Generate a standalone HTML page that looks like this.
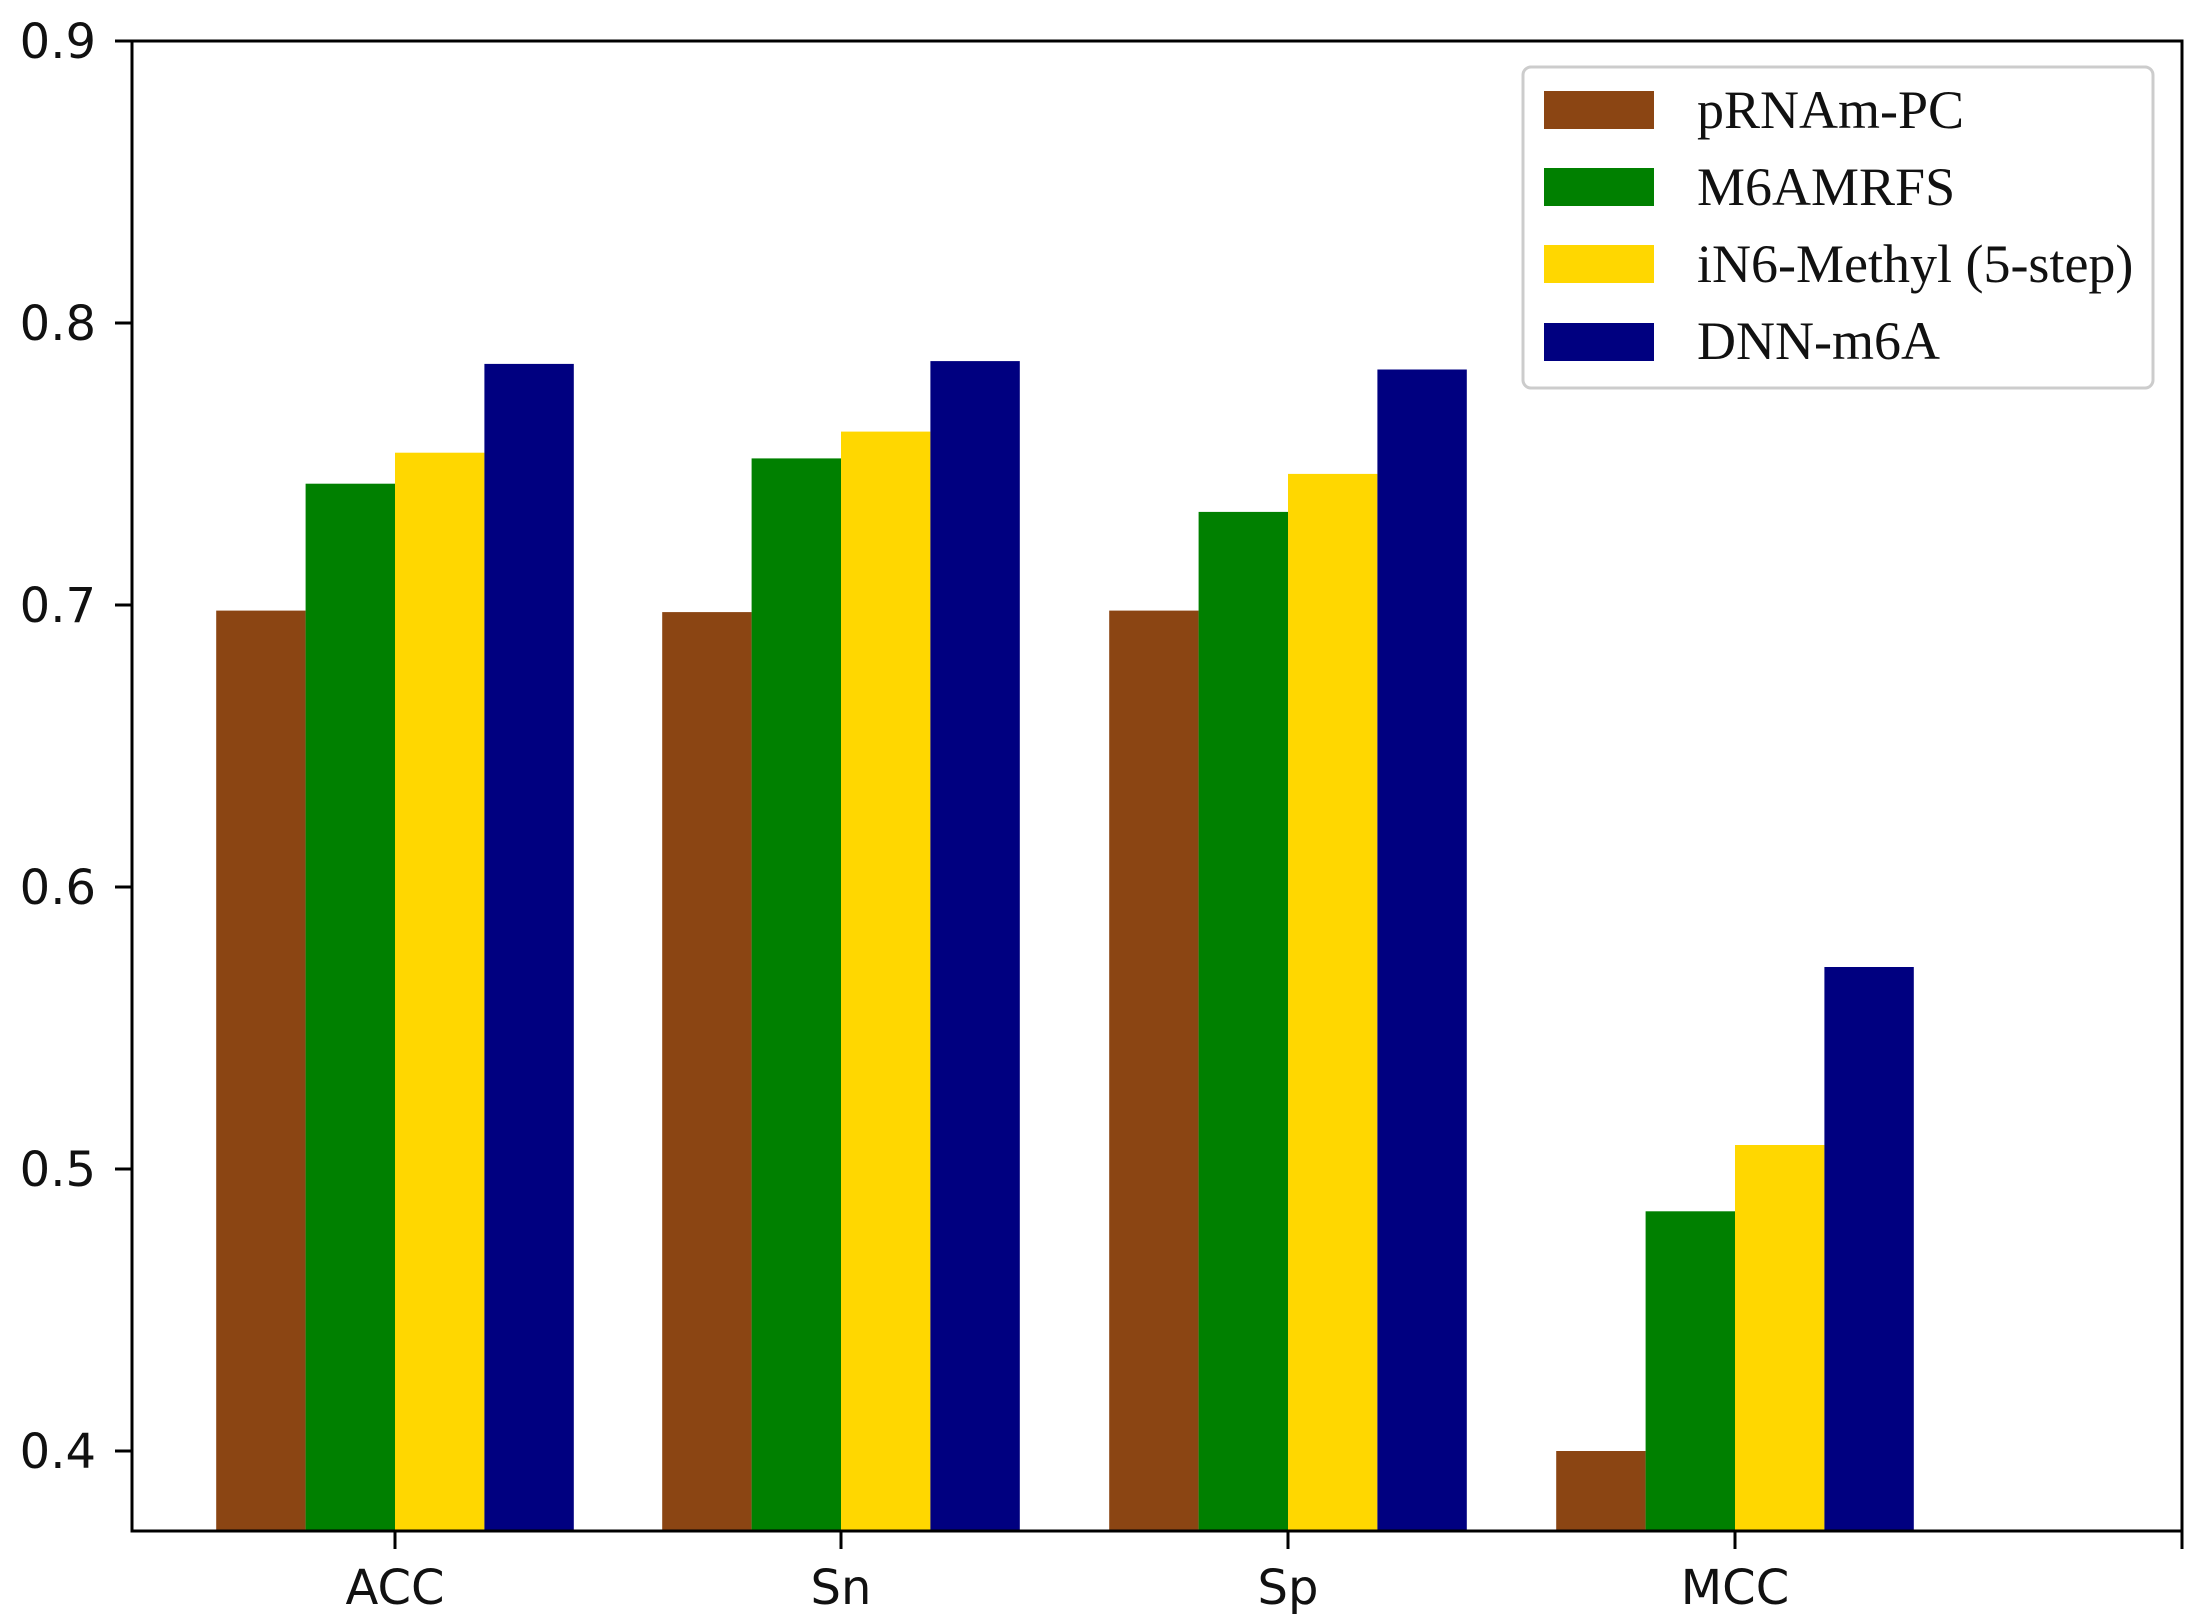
<!DOCTYPE html>
<html><head><meta charset="utf-8"><style>body{margin:0;background:#fff}svg{display:block}</style></head>
<body>
<svg width="2196" height="1621" viewBox="0 0 2196 1621" xmlns="http://www.w3.org/2000/svg">
<rect width="2196" height="1621" fill="#fff"/>
<g>
<rect x="216.2" y="610.6" width="89.4" height="920.4" fill="#8B4513"/>
<rect x="305.6" y="483.7" width="89.4" height="1047.3" fill="#008000"/>
<rect x="395" y="452.7" width="89.4" height="1078.3" fill="#FFD700"/>
<rect x="484.4" y="363.9" width="89.4" height="1167.1" fill="#000080"/>
<rect x="662.2" y="612.1" width="89.4" height="918.9" fill="#8B4513"/>
<rect x="751.6" y="458.4" width="89.4" height="1072.6" fill="#008000"/>
<rect x="841" y="431.6" width="89.4" height="1099.4" fill="#FFD700"/>
<rect x="930.4" y="361.1" width="89.4" height="1169.9" fill="#000080"/>
<rect x="1109.2" y="610.6" width="89.4" height="920.4" fill="#8B4513"/>
<rect x="1198.6" y="511.9" width="89.4" height="1019.1" fill="#008000"/>
<rect x="1288" y="473.9" width="89.4" height="1057.1" fill="#FFD700"/>
<rect x="1377.4" y="369.5" width="89.4" height="1161.5" fill="#000080"/>
<rect x="1556.2" y="1451" width="89.4" height="80" fill="#8B4513"/>
<rect x="1645.6" y="1211.3" width="89.4" height="319.7" fill="#008000"/>
<rect x="1735" y="1145" width="89.4" height="386" fill="#FFD700"/>
<rect x="1824.4" y="967" width="89.4" height="564" fill="#000080"/>
</g>
<g stroke="#000" stroke-width="3" fill="none">
<rect x="132" y="41" width="2050" height="1490"/>
<line x1="115" y1="41" x2="132" y2="41"/><line x1="115" y1="323" x2="132" y2="323"/>
<line x1="115" y1="605" x2="132" y2="605"/><line x1="115" y1="887" x2="132" y2="887"/>
<line x1="115" y1="1169" x2="132" y2="1169"/><line x1="115" y1="1451" x2="132" y2="1451"/>
<line x1="395" y1="1531" x2="395" y2="1549"/><line x1="841" y1="1531" x2="841" y2="1549"/>
<line x1="1288" y1="1531" x2="1288" y2="1549"/><line x1="1735" y1="1531" x2="1735" y2="1549"/>
<line x1="2182" y1="1531" x2="2182" y2="1549"/>
</g>
<g font-family="DejaVu Sans, Liberation Sans, sans-serif" font-size="48" fill="#111" text-anchor="end">
<text x="96" y="58">0.9</text><text x="96" y="340">0.8</text><text x="96" y="622">0.7</text>
<text x="96" y="904">0.6</text><text x="96" y="1186">0.5</text><text x="96" y="1468">0.4</text>
</g>
<g font-family="DejaVu Sans, Liberation Sans, sans-serif" font-size="48" fill="#111" text-anchor="middle">
<text x="395" y="1604">ACC</text><text x="841" y="1604">Sn</text><text x="1288" y="1604">Sp</text><text x="1735" y="1604">MCC</text>
</g>
<rect x="1523" y="67" width="630" height="321" rx="8" fill="#fff" stroke="#ccc" stroke-width="3"/>
<rect x="1544" y="91" width="110" height="38" fill="#8B4513"/>
<rect x="1544" y="168" width="110" height="38" fill="#008000"/>
<rect x="1544" y="245" width="110" height="38" fill="#FFD700"/>
<rect x="1544" y="323" width="110" height="38" fill="#000080"/>
<g font-family="Liberation Serif, serif" font-size="54" fill="#111">
<text x="1697" y="128">pRNAm-PC</text>
<text x="1697" y="205">M6AMRFS</text>
<text x="1697" y="282">iN6-Methyl (5-step)</text>
<text x="1697" y="359">DNN-m6A</text>
</g>
</svg>
</body></html>
